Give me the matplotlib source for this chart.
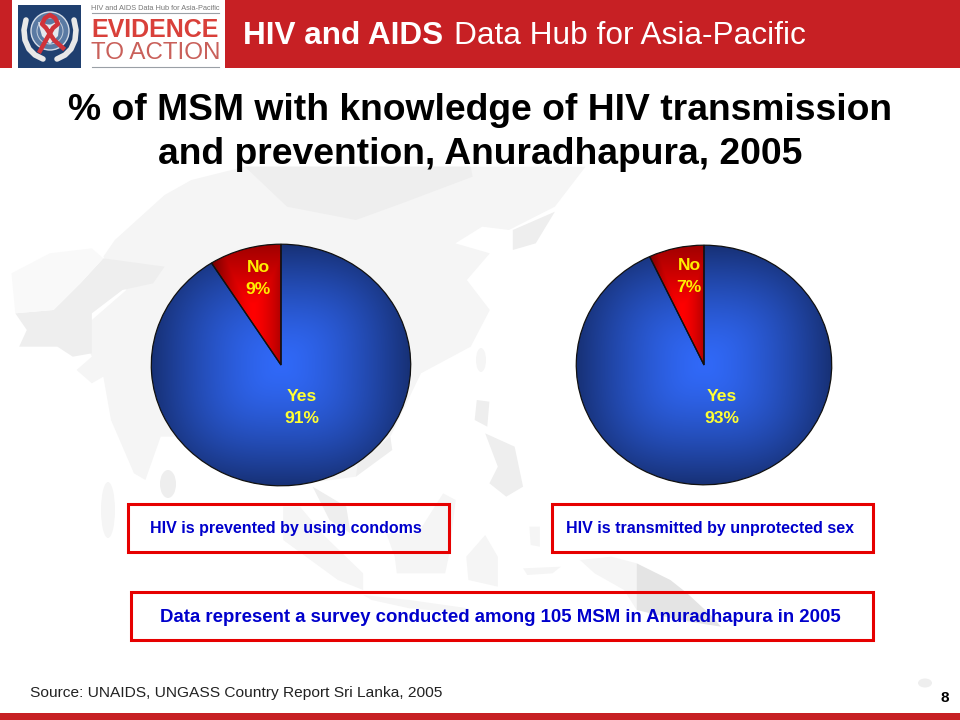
import matplotlib
matplotlib.use("Agg")
import matplotlib.pyplot as plt
from matplotlib.patches import Rectangle, Polygon, Circle, Ellipse
import numpy as np

plt.rcParams['font.family'] = ['Liberation Sans', 'DejaVu Sans']

# pie data in percent
pie_labels = ["No", "Yes"]
condoms_values = [9, 91]
unprotected_values = [7, 93]
condoms_caption = "HIV is prevented by using condoms"
unprotected_caption = "HIV is transmitted by unprotected sex"

W, H = 960, 720
fig = plt.figure(figsize=(9.6, 7.2), dpi=100)
bg = fig.add_axes([0, 0, 1, 1])
bg.set_xlim(0, W)
bg.set_ylim(H, 0)
bg.axis("off")


def north(pts):
    return [(x / 2.613, 170 + y / 3) for x, y in pts]


def south(pts):
    return [(300 + x / 2.376, 360 + y / 3) for x, y in pts]


map_pale = "#f9f9f9"
map_light = "#f5f5f5"
map_mid = "#eeeeee"
map_dark = "#e4e4e4"

shapes = [
    (north([(300, 210), (430, 75), (500, 30), (640, -10), (1530, -10), (1450, 110), (1330, 180), (1260, 170), (1190, 220),
            (1280, 250), (1220, 330), (1280, 420), (1230, 530), (1100, 610), (1020, 800), (930, 920), (800, 940),
            (600, 800), (420, 800), (380, 930), (350, 910), (290, 750), (270, 620), (240, 640), (200, 600), (240, 560),
            (210, 480), (330, 360), (270, 260)]), map_light),
    (north([(640, -10), (1230, -10), (1235, 20), (1050, 100), (930, 150), (750, 110)]), map_mid),
    (north([(270, 265), (430, 290), (400, 340), (320, 360), (240, 430), (240, 550), (190, 560), (150, 530), (50, 530),
            (70, 480), (40, 430), (140, 420), (210, 340)]), map_mid),
    (north([(30, 310), (130, 250), (240, 235), (270, 265), (210, 340), (140, 420), (40, 430)]), map_pale),
    (north([(1340, 180), (1450, 125), (1400, 220), (1340, 240)]), map_mid),
    (north([(1020, 800), (1025, 840), (930, 920), (935, 880)]), map_mid),
    (south([(420, 120), (450, 125), (445, 200), (415, 180)]), map_mid),
    (south([(440, 220), (510, 260), (530, 380), (490, 410), (450, 370), (470, 320)]), map_mid),
    (south([(30, 380), (110, 440), (120, 520), (70, 480)]), map_mid),
    (south([(-40, 440), (0, 440), (60, 530), (150, 640), (150, 690), (90, 660), (-40, 540)]), map_light),
    (south([(340, 400), (370, 420), (355, 580), (345, 640), (230, 640), (225, 590), (205, 520), (280, 520)]), map_light),
    (south([(150, 705), (260, 720), (400, 745), (400, 760), (260, 745), (170, 720)]), map_light),
    (south([(395, 590), (440, 525), (470, 590), (470, 680), (400, 660)]), map_light),
    (south([(665, 600), (740, 590), (800, 610), (800, 750), (770, 690), (700, 640)]), map_light),
    (south([(800, 610), (880, 660), (920, 700), (980, 770), (1000, 800), (900, 780), (800, 750)]), map_dark),
    (south([(530, 625), (620, 620), (600, 640), (540, 645)]), map_light),
    (south([(545, 500), (570, 500), (570, 560), (548, 555)]), map_light),
]
for poly, colour in shapes:
    bg.add_patch(Polygon(poly, closed=True, fc=colour, ec="none", zorder=1))
bg.add_patch(Ellipse((168, 484), 16, 28, fc=map_mid, ec="none", zorder=1))
bg.add_patch(Ellipse((481, 360), 10, 24, fc=map_light, ec="none", zorder=1))
bg.add_patch(Ellipse((108, 510), 14, 56, fc=map_light, ec="none", zorder=1))
bg.add_patch(Ellipse((925, 683), 14, 9, fc=map_mid, ec="none", zorder=1))

# header
header_red = "#c72024"
bg.add_patch(Rectangle((0, 0), W, 68, fc=header_red, ec="none", zorder=2))
bg.add_patch(Rectangle((12, 0), 213, 70, fc="white", ec="none", zorder=3))
bg.add_patch(Rectangle((18, 5), 63, 63, fc="#1f3f6f", ec="none", zorder=4))

# logo emblem
bg.add_patch(Circle((50, 31), 19, fc="#5a7aa3", ec="#d5dde8", lw=1, zorder=5))
for r in (6, 13):
    bg.add_patch(Circle((50, 31), r, fc="none", ec="#c3cfdd", lw=0.7, zorder=5))
bg.add_patch(Polygon([(38, 22), (50, 25), (60, 20), (58, 36), (50, 44), (42, 36)], fc="#e4e8ee", ec="none", zorder=5))
for side in (-1, 1):
    xs = [50 + side * r for r in (24, 26, 25, 21, 15, 7)]
    ys = [20, 30, 40, 49, 55, 59]
    bg.plot(xs, ys, color="#e8e8e8", lw=4, zorder=5, solid_capstyle="round")
bg.plot([40, 46, 53, 58, 55, 50, 45, 42, 46, 54, 63], [51, 40, 28, 24, 18, 15, 18, 24, 28, 40, 48],
        color="#d0333a", lw=3.2, zorder=6)

bg.text(155.5, 8, "HIV and AIDS Data Hub for Asia-Pacific", fontsize=5.3, color="#777777", ha="center", va="center", zorder=6)
bg.plot([92, 219], [12.5, 12.5], color="#9aa0a6", lw=0.8, zorder=6)
bg.text(155.5, 30, "EVIDENCE", fontsize=18, fontweight="bold", color="#d9403a", ha="center", va="center", zorder=6)
bg.text(155.5, 53, "TO ACTION", fontsize=17.4, color="#c9605a", ha="center", va="center", zorder=6)
bg.plot([92, 219], [67, 67], color="#9aa0a6", lw=0.8, zorder=6)
bg.text(243, 36, "HIV and AIDS", fontsize=22.7, fontweight="bold", color="white", ha="left", va="center", zorder=6)
bg.text(454, 36, "Data Hub for Asia-Pacific", fontsize=22.8, color="white", ha="left", va="center", zorder=6)

# titles
bg.text(480, 110, "% of MSM with knowledge of HIV transmission", fontsize=26.8, fontweight="bold",
        color="black", ha="center", va="center", zorder=6)
bg.text(480, 154, "and prevention, Anuradhapura, 2005", fontsize=26.8, fontweight="bold",
        color="black", ha="center", va="center", zorder=6)

# footer
bg.add_patch(Rectangle((0, 713), W, 7, fc=header_red, ec="none", zorder=2))
bg.text(30, 693, "Source: UNAIDS, UNGASS Country Report Sri Lanka, 2005", fontsize=11.15, color="#222222",
        ha="left", va="center", zorder=6)
bg.text(945, 698, "8", fontsize=11, fontweight="bold", color="black", ha="center", va="center", zorder=6)


def text_box(x0, y0, x1, y1, text, size, cx, cy):
    bg.add_patch(Rectangle((x0, y0), x1 - x0, y1 - y0, fc="none", ec="#e60000", lw=2.2, zorder=3))
    bg.text(cx, cy, text, fontsize=size, fontweight="bold", color="#0000cc",
            ha="center", va="center", zorder=6)


text_box(128, 504, 449, 552, condoms_caption, 11.5, 285.5, 529)
text_box(552, 504, 873, 552, unprotected_caption, 11.5, 709.5, 529)
text_box(131, 592, 873, 640, "Data represent a survey conducted among 105 MSM in Anuradhapura in 2005", 13.4, 500.5, 618)


def gradient(colors_center, colors_edge, power=1.5):
    # rectangular style fill: bright middle, dark rim
    g = np.linspace(-1, 1, 300)
    x, y = np.meshgrid(g, g)
    d = np.clip((np.abs(x) ** 3 + np.abs(y) ** 3) ** (1 / 3), 0, 1) ** power
    c0 = np.array(colors_center)
    c1 = np.array(colors_edge)
    return c0 + (c1 - c0) * d[..., None]


def draw_pie(x0, y0, x1, y1, values, text_pos):
    ax = fig.add_axes([x0 / W, 1 - y1 / H, (x1 - x0) / W, (y1 - y0) / H])
    wedges, _ = ax.pie(values, startangle=90, counterclock=True, radius=1, center=(0, 0),
                       colors=["none", "none"], wedgeprops=dict(ec="none"))
    ax.set_aspect("auto")
    ax.patch.set_alpha(0)

    # blue part fills the whole disc, dark rim
    blue = ax.imshow(gradient((0.19, 0.41, 0.97), (0.09, 0.19, 0.46)), extent=(-1, 1, -1, 1), aspect="auto", zorder=1)
    blue.set_clip_path(wedges[1])

    # red wedge, bright in the middle of the slice
    angle = np.deg2rad(values[0] * 3.6)
    half = np.sin(angle) / 2
    g = np.linspace(-1, 1, 300)
    xx, yy = np.meshgrid(g, g)
    d = np.clip(np.abs(xx + half * 0.8) / (half * 1.1 + 0.05), 0, 1) ** 1.5
    d = np.maximum(d, np.clip(np.abs(yy + 0.1) - 0.4, 0, 1) * 1.2)
    d = np.clip(d, 0, 1)
    c0 = np.array((1.0, 0.0, 0.0))
    c1 = np.array((0.38, 0.0, 0.0))
    red = ax.imshow(c0 + (c1 - c0) * d[..., None], extent=(-1, 1, -1, 1), aspect="auto", zorder=2)
    red.set_clip_path(wedges[0])

    # outline on top
    for w in wedges:
        w.set_facecolor("none")
        w.set_edgecolor("#111111")
        w.set_linewidth(0.9)
        w.set_zorder(3)
    ax.set_xlim(-1.01, 1.01)
    ax.set_ylim(-1.01, 1.01)

    for i, label in enumerate(pie_labels):
        px, py = text_pos[i]
        colour = "#ffff33" if i else "#ffee00"
        fig.text(px / W, 1 - py / H, label, fontsize=12.6, fontweight="bold", color=colour,
                 ha="center", va="center", zorder=10)
        fig.text(px / W, 1 - (py + 22) / H, "%d%%" % values[i], fontsize=12.6, fontweight="bold",
                 color=colour, ha="center", va="center", zorder=10)


draw_pie(150, 243, 412, 487, condoms_values, [(258, 267), (302, 396)])
draw_pie(575, 244, 833, 486, unprotected_values, [(689, 266), (722, 396)])

fig.savefig("out.png", dpi=100)
